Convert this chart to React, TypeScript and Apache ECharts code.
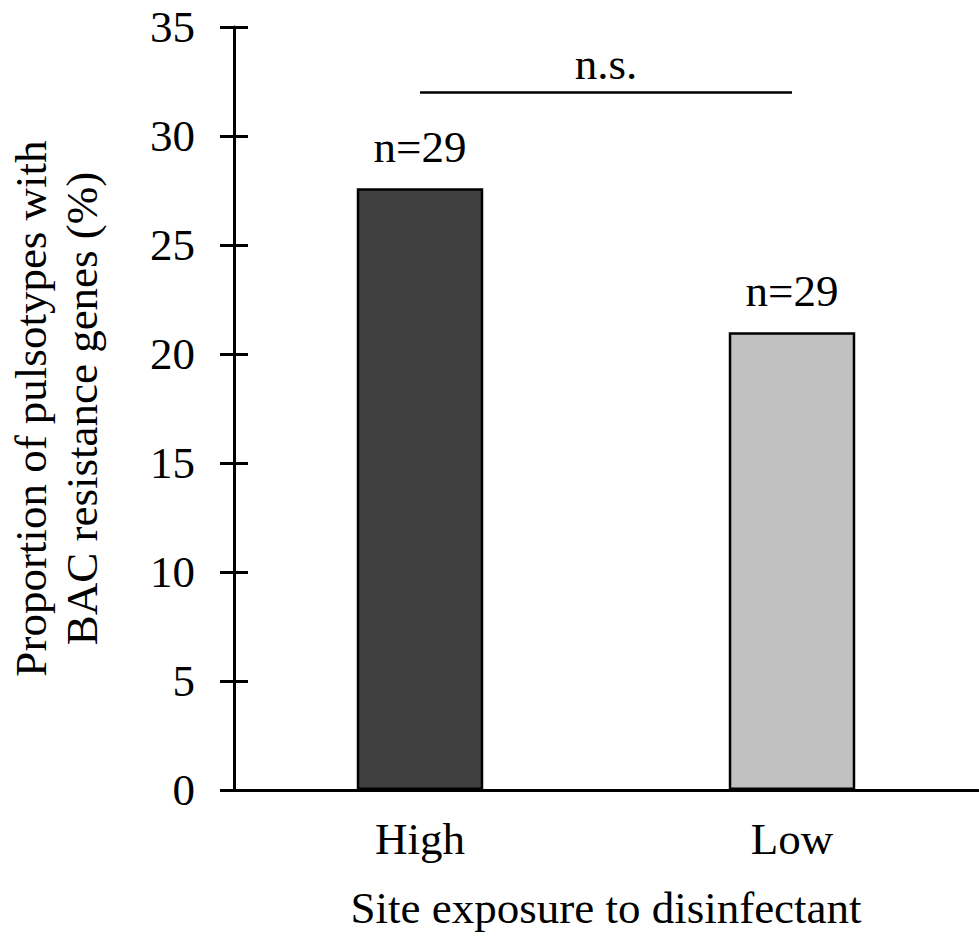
import React, { useEffect, useRef } from "react";
import * as echarts from "echarts";

const categories = ["High", "Low"];
const values = [27.6, 21.0];
const barColors = ["#404040", "#c0c0c0"];
const sampleLabels = ["n=29", "n=29"];
const sigLevel = 32;
const sigText = "n.s.";
const yTitle = "Proportion of pulsotypes with\nBAC resistance genes (%)";
const xTitle = "Site exposure to disinfectant";

const FONT = "Liberation Serif, Times New Roman, serif";
const FS = 45;

export default function App() {
  const ref = useRef<HTMLDivElement>(null);
  useEffect(() => {
    document.body.style.margin = "0";
    const chart = echarts.init(ref.current!, null, { renderer: "svg" });
    const axisStyle = { color: "#000", width: 3 };
    chart.setOption({
      animation: false,
      backgroundColor: "#fff",
      textStyle: { fontFamily: FONT, color: "#000" },
      grid: {
        left: 234,
        right: 1,
        top: 27,
        bottom: 150,
        containLabel: false,
        outerBoundsMode: "none",
      },
      xAxis: {
        type: "category",
        data: categories,
        axisLine: { lineStyle: axisStyle },
        axisTick: { show: false },
        axisLabel: { fontSize: FS, color: "#000", margin: 26, fontFamily: FONT },
        name: xTitle,
        nameLocation: "middle",
        nameGap: 95,
        nameTextStyle: { fontSize: FS, color: "#000", fontFamily: FONT },
      },
      yAxis: [
        {
          type: "value",
          min: 0,
          max: 35,
          interval: 5,
          axisLine: { show: true, lineStyle: axisStyle },
          axisTick: { show: true, length: 14, lineStyle: axisStyle },
          axisLabel: { fontSize: FS, color: "#000", margin: 39, fontFamily: FONT },
          splitLine: { show: false },
          name: yTitle,
          nameLocation: "middle",
          nameGap: 127,
          nameTextStyle: { fontSize: FS, color: "#000", fontFamily: FONT, lineHeight: 51 },
        },
        {
          type: "value",
          min: 0,
          max: 35,
          interval: 5,
          position: "left",
          axisLine: { show: false },
          axisTick: { show: true, inside: true, length: 14, lineStyle: axisStyle },
          axisLabel: { show: false },
          splitLine: { show: false },
        },
      ],
      series: [
        {
          type: "bar",
          yAxisIndex: 0,
          barWidth: "34%",
          data: values.map((v, i) => ({
            value: v,
            itemStyle: { color: barColors[i], borderColor: "#000", borderWidth: 2.5 },
            label: { formatter: sampleLabels[i] },
          })),
          label: {
            show: true,
            position: "top",
            distance: 19,
            fontSize: FS,
            color: "#000",
            fontFamily: FONT,
          },
          markLine: {
            symbol: "none",
            silent: true,
            lineStyle: { color: "#000", width: 2.5, type: "solid" },
            label: {
              show: true,
              position: "insideMiddleTop",
              formatter: sigText,
              fontSize: FS,
              color: "#000",
              fontFamily: FONT,
              distance: 6,
            },
            data: [
              [
                { coord: [categories[0], sigLevel] },
                { coord: [categories[1], sigLevel] },
              ],
            ],
          },
        },
      ],
    });
    return () => chart.dispose();
  }, []);
  return <div ref={ref} style={{ width: 979, height: 940 }} />;
}
